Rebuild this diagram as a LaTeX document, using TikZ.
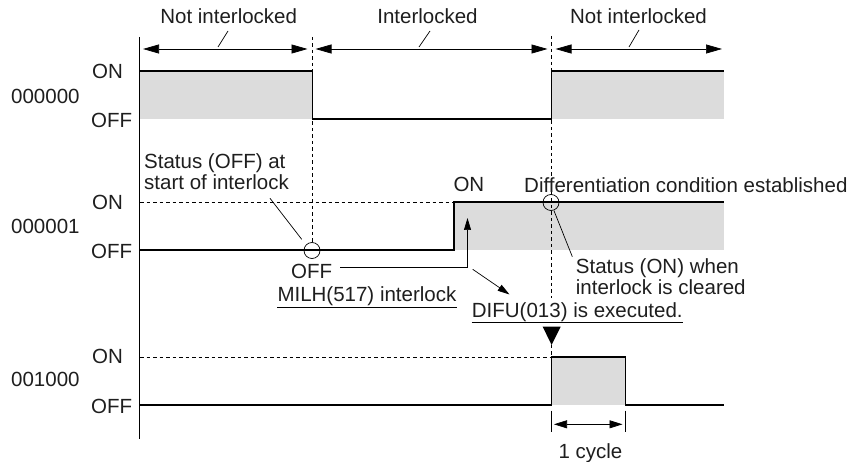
\documentclass[tikz,border=0pt]{standalone}
\usepackage{fontspec}
\setmainfont{Liberation Sans}
\usetikzlibrary{arrows.meta}
\definecolor{onfill}{RGB}{220,220,220}
\definecolor{ink}{RGB}{30,30,30}
\begin{document}
\begin{tikzpicture}[x=1pt,y=-1pt,
  lbl/.style={font=\fontsize{20.5}{22}\selectfont, inner sep=0pt, anchor=base west, text=ink},
  sigline/.style={line width=1.4pt, line join=miter, draw=black},
  leader/.style={line width=0.7pt, draw=black},
  dashline/.style={line width=0.7pt, dash pattern=on 3.5pt off 3pt, draw=black},
  spanarrow/.style={leader, {Triangle[length=16pt,width=9pt]}-{Triangle[length=16pt,width=9pt]}},
  cyclearrow/.style={leader, {Triangle[length=13pt,width=8pt]}-{Triangle[length=13pt,width=8pt]}},
  smallarrow/.style={leader, -{Triangle[length=12pt,width=7pt]}},
  ring/.style={circle, draw=black, line width=0.7pt, minimum size=16pt, inner sep=0pt}
]
\useasboundingbox (0,0) rectangle (860,462);

% ---- shaded ON regions
\fill[onfill] (140,71) rectangle (312,119);
\fill[onfill] (551.5,71) rectangle (724,119);
\fill[onfill] (454,202) rectangle (724,250);
\fill[onfill] (551.5,357) rectangle (625.7,405);

% ---- coordinates
\coordinate (axT) at (139.5,37);
\coordinate (axB) at (139.5,439);
\coordinate (d1T) at (312,37);
\coordinate (d1B) at (312,242);
\coordinate (d2T) at (551.5,36);
\coordinate (d2B) at (551.5,298);
\coordinate (d2T2) at (551.5,345);
\coordinate (d2B2) at (551.5,357);

% ---- dashed guides
\draw[dashline] (d1T) -- (d1B);
\draw[dashline] (d2T) -- (d2B);
\draw[dashline] (d2T2) -- (d2B2);
\draw[dashline] (140,202) -- (454,202);
\draw[dashline] (140,357) -- (551.5,357);

% ---- axis
\draw[leader,line width=0.9pt] (axT) -- (axB);

% ---- signals
\draw[sigline] (140,71) -- (312.3,71) -- (312.3,119) -- (551.5,119) -- (551.5,71) -- (724,71);
\draw[sigline] (140,250) -- (454,250) -- (454,202) -- (724,202);
\draw[sigline] (140,405) -- (551.5,405) -- (551.5,357) -- (625.7,357) -- (625.7,405) -- (723.5,405);

% ---- top span arrows and labels
\coordinate (a1L) at (143,49); \coordinate (a1R) at (307.5,49);
\coordinate (a2L) at (315.5,49); \coordinate (a2R) at (547.5,49);
\coordinate (a3L) at (555.5,49); \coordinate (a3R) at (722,49);
\draw[spanarrow] (a1L) -- (a1R);
\draw[spanarrow] (a2L) -- (a2R);
\draw[spanarrow] (a3L) -- (a3R);
\node[lbl, anchor=base] (tNI1) at (228.7,23.5) {Not interlocked};
\node[lbl, anchor=base] (tI) at (427.5,23.5) {Interlocked};
\node[lbl, anchor=base] (tNI2) at (638.5,23.5) {Not interlocked};
\coordinate (s1a) at (228,31); \coordinate (s1b) at (218,47);
\coordinate (s2a) at (430,31); \coordinate (s2b) at (419,47);
\coordinate (s3a) at (639,30); \coordinate (s3b) at (629,47);
\draw[leader] (s1a) -- (s1b);
\draw[leader] (s2a) -- (s2b);
\draw[leader] (s3a) -- (s3b);

% ---- signal labels
\node[lbl] (n0) at (11,103.3) {000000};
\node[lbl] (n0on) at (92,78.3) {ON};
\node[lbl] (n0off) at (91,127.7) {OFF};
\node[lbl] (n1) at (11,234) {000001};
\node[lbl] (n1on) at (92,210) {ON};
\node[lbl] (n1off) at (91,258.3) {OFF};
\node[lbl] (n2) at (11,386.7) {001000};
\node[lbl] (n2on) at (92,363.3) {ON};
\node[lbl] (n2off) at (91,413.3) {OFF};

% ---- annotations for 000001
\node[ring] (c1) at (312,250.5) {};
\node[ring] (c2) at (551,202.5) {};
\node[lbl] (st1) at (144,168.3) {Status (OFF) at};
\node[lbl] (st2) at (144,190) {start of interlock};
\coordinate (l1a) at (270,198.3);
\coordinate (l1b) at (301.7,239.3);
\draw[leader] (l1a) -- (l1b);

\node[lbl] (offl) at (291,278.3) {OFF};
\coordinate (hStart) at (340,267.3);
\coordinate (upTip) at (467.5,218);
\draw[smallarrow] (hStart) -| (upTip);
\coordinate (dgA) at (472.7,269.3);
\coordinate (dgB) at (509.5,294.5);
\draw[smallarrow] (dgA) -- (dgB);

\node[lbl] (milh) at (277.3,301.7) {MILH(517) interlock};
\draw[leader] ([yshift=-6pt]milh.base west) -- ([yshift=-6pt]milh.base east);

\node[lbl] (onl) at (453.3,191.7) {ON};
\node[lbl] (diffc) at (524,193) {Differentiation condition established};
\coordinate (l2a) at (554,210.7);
\coordinate (l2b) at (572.3,256.7);
\draw[leader] (l2a) -- (l2b);
\node[lbl] (st3) at (575.7,273.3) {Status (ON) when};
\node[lbl] (st4) at (575.7,294.5) {interlock is cleared};

\node[lbl] (difu) at (471.7,317.5) {DIFU(013) is executed.};
\draw[leader] ([yshift=-5pt]difu.base west) -- ([yshift=-5pt]difu.base east);

% ---- execution marker
\fill[black] (542.7,326.7) -- (560.7,326.7) -- (551.6,345) -- cycle;

% ---- one cycle bracket
\coordinate (k1T) at (551.5,410.7); \coordinate (k1B) at (551.5,432.3);
\coordinate (k2T) at (625.7,410.7); \coordinate (k2B) at (625.7,432.3);
\draw[leader] (k1T) -- (k1B);
\draw[leader] (k2T) -- (k2B);
\coordinate (cyL) at (554,424.3); \coordinate (cyR) at (622.5,424.3);
\draw[cyclearrow] (cyL) -- (cyR);
\node[lbl] (cyc) at (558.3,458.3) {1 cycle};
\end{tikzpicture}
\end{document}
